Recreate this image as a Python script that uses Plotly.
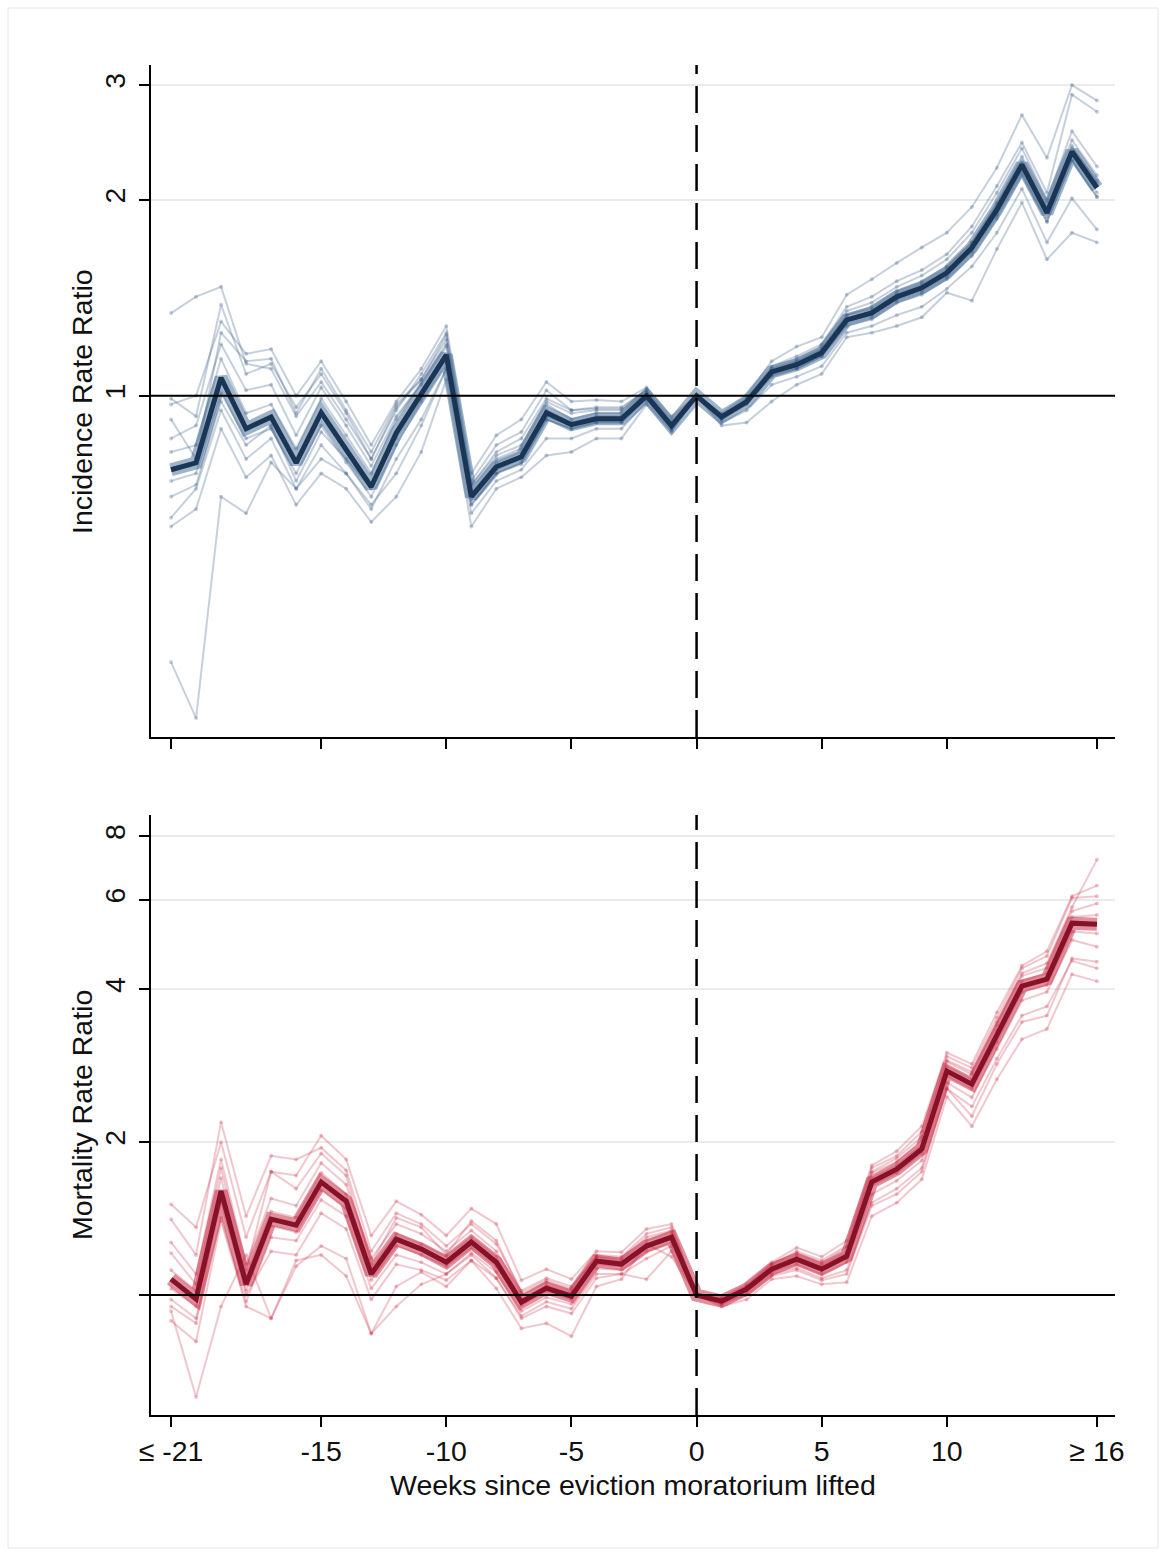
import plotly.graph_objects as go

# Event-time axis (weeks relative to the lifting of the eviction moratorium)
weeks = list(range(-21, 17))
week_ticks = [-21, -15, -10, -5, 0, 5, 10, 16]
week_labels = ["≤ -21", "-15", "-10", "-5", "0", "5", "10", "≥ 16"]

# ---- Incidence rate ratio: pooled estimate ----
irr_main = [0.770, 0.789, 1.066, 0.890, 0.928, 0.789, 0.942, 0.826, 0.725, 0.877,
            1.011, 1.156, 0.700, 0.778, 0.806, 0.942, 0.903, 0.922, 0.922, 1.000,
            0.899, 1.000, 0.928, 0.979, 1.088, 1.116, 1.164, 1.308, 1.341, 1.419,
            1.465, 1.545, 1.688, 1.931, 2.264, 1.910, 2.371, 2.087]

# ---- Incidence rate ratio: leave-one-out estimates ----
irr_a = [1.34, 1.42, 1.47, 1.12, 1.10, 0.93, 1.05, 0.92, 0.80, 0.95, 1.08, 1.25, 0.74,
         0.84, 0.88, 1.02, 0.95, 0.96, 0.96, 1.02, 0.91, 1.00, 0.92, 0.98, 1.09, 1.13,
         1.18, 1.33, 1.37, 1.45, 1.50, 1.58, 1.72, 1.97, 2.30, 1.95, 2.42, 2.12]
irr_b = [0.97, 1.00, 1.30, 1.16, 1.18, 1.00, 1.13, 0.98, 0.84, 0.98, 1.10, 1.28, 0.76,
         0.87, 0.92, 1.05, 0.98, 0.985, 0.98, 1.03, 0.93, 1.00, 0.94, 1.00, 1.13, 1.19,
         1.23, 1.43, 1.51, 1.60, 1.69, 1.78, 1.95, 2.24, 2.70, 2.32, 3.00, 2.84]
irr_c = [0.99, 0.93, 1.38, 1.08, 1.12, 0.96, 1.08, 0.94, 0.80, 0.96, 1.06, 1.24, 0.73,
         0.82, 0.86, 0.99, 0.95, 0.955, 0.955, 1.02, 0.92, 1.00, 0.935, 0.99, 1.11, 1.15,
         1.20, 1.37, 1.42, 1.50, 1.56, 1.65, 1.82, 2.10, 2.45, 2.05, 2.90, 2.73]
irr_d = [0.39, 0.32, 0.70, 0.66, 0.79, 0.72, 0.80, 0.76, 0.68, 0.76, 0.90, 1.10, 0.68,
         0.76, 0.79, 0.92, 0.89, 0.91, 0.91, 0.99, 0.89, 1.00, 0.92, 0.97, 1.07, 1.10,
         1.15, 1.28, 1.31, 1.39, 1.43, 1.51, 1.64, 1.87, 2.18, 1.85, 2.30, 2.02]
irr_e = [0.63, 0.67, 0.89, 0.75, 0.81, 0.68, 0.76, 0.72, 0.64, 0.70, 0.82, 1.06, 0.63,
         0.72, 0.75, 0.81, 0.82, 0.86, 0.86, 0.97, 0.88, 1.00, 0.90, 0.91, 0.98, 1.04,
         1.08, 1.23, 1.25, 1.28, 1.32, 1.44, 1.40, 1.68, 1.98, 1.62, 1.78, 1.72]
irr_f = [0.65, 0.72, 0.95, 0.80, 0.86, 0.72, 0.84, 0.76, 0.67, 0.80, 0.92, 1.10, 0.66,
         0.74, 0.77, 0.86, 0.86, 0.89, 0.89, 0.98, 0.885, 1.00, 0.91, 0.95, 1.04, 1.07,
         1.11, 1.25, 1.28, 1.33, 1.37, 1.46, 1.58, 1.78, 2.08, 1.72, 2.01, 1.80]
irr_g = [0.82, 0.84, 1.14, 0.94, 0.97, 0.83, 0.99, 0.87, 0.76, 0.92, 1.05, 1.20, 0.72,
         0.80, 0.83, 0.97, 0.92, 0.94, 0.94, 1.01, 0.905, 1.00, 0.93, 0.985, 1.10, 1.13,
         1.18, 1.33, 1.36, 1.44, 1.49, 1.57, 1.72, 1.98, 2.33, 1.98, 2.47, 2.18]
irr_h = [0.74, 0.76, 1.01, 0.86, 0.89, 0.76, 0.90, 0.79, 0.70, 0.84, 0.98, 1.12, 0.68,
         0.76, 0.785, 0.92, 0.89, 0.91, 0.91, 0.99, 0.895, 1.00, 0.925, 0.975, 1.075, 1.10,
         1.15, 1.29, 1.32, 1.40, 1.44, 1.52, 1.66, 1.89, 2.20, 1.85, 2.30, 2.02]
irr_i = [0.86, 0.90, 1.20, 1.02, 1.04, 0.87, 1.03, 0.90, 0.78, 0.93, 1.04, 1.19, 0.71,
         0.79, 0.82, 0.95, 0.91, 0.93, 0.93, 1.005, 0.90, 1.00, 0.93, 0.98, 1.09, 1.12,
         1.17, 1.31, 1.35, 1.43, 1.48, 1.56, 1.70, 1.95, 2.28, 1.93, 2.40, 2.14]
irr_j = [0.70, 0.73, 0.98, 0.84, 0.90, 0.74, 0.88, 0.80, 0.72, 0.86, 0.99, 1.14, 0.69,
         0.77, 0.80, 0.93, 0.90, 0.915, 0.915, 0.995, 0.897, 1.00, 0.927, 0.977, 1.08, 1.105,
         1.155, 1.30, 1.33, 1.41, 1.45, 1.53, 1.67, 1.90, 2.22, 1.88, 2.34, 2.05]
irr_k = [0.92, 0.80, 1.25, 1.13, 1.14, 0.94, 1.10, 0.95, 0.82, 0.97, 1.06, 1.22, 0.73,
         0.81, 0.84, 0.98, 0.94, 0.95, 0.95, 1.01, 0.91, 1.00, 0.93, 0.99, 1.10, 1.14,
         1.19, 1.35, 1.39, 1.47, 1.53, 1.62, 1.78, 2.05, 2.40, 2.00, 2.55, 2.25]

# ---- Mortality rate ratio: pooled estimate ----
mrr_main = [1.075, 0.982, 1.602, 1.051, 1.411, 1.373, 1.669, 1.531, 1.100, 1.289,
            1.232, 1.161, 1.272, 1.161, 0.969, 1.032, 0.995, 1.167, 1.151, 1.249,
            1.301, 1.000, 0.973, 1.028, 1.125, 1.177, 1.125, 1.193, 1.669, 1.770,
            1.939, 2.761, 2.602, 3.234, 4.058, 4.188, 5.398, 5.373]

# ---- Mortality rate ratio: leave-one-out estimates ----
mrr_p = [1.51, 1.36, 2.00, 1.30, 1.75, 1.72, 2.06, 1.85, 1.31, 1.53, 1.44, 1.31, 1.48,
         1.38, 1.07, 1.125, 1.075, 1.22, 1.215, 1.35, 1.38, 1.00, 0.99, 1.05, 1.16, 1.24,
         1.19, 1.28, 1.80, 1.92, 2.15, 3.00, 2.85, 3.60, 4.45, 4.75, 6.10, 6.40]
mrr_q = [1.41, 1.20, 2.19, 1.43, 1.88, 1.85, 1.95, 1.76, 1.22, 1.45, 1.38, 1.25, 1.38,
         1.26, 1.02, 1.08, 1.04, 1.19, 1.18, 1.30, 1.34, 1.00, 0.985, 1.04, 1.15, 1.21,
         1.16, 1.24, 1.75, 1.86, 2.05, 2.90, 2.75, 3.45, 4.30, 4.50, 5.80, 7.20]
mrr_r = [0.93, 0.63, 0.95, 1.20, 0.90, 1.14, 1.25, 1.18, 0.84, 1.04, 1.11, 1.04, 1.17,
         1.03, 0.86, 0.88, 0.83, 1.04, 1.075, 1.26, 1.19, 1.00, 0.95, 0.98, 1.075, 1.09,
         1.05, 1.06, 1.43, 1.52, 1.69, 2.46, 2.15, 2.66, 3.19, 3.34, 4.28, 4.15]
mrr_s = [0.89, 0.81, 1.40, 0.95, 0.90, 1.17, 1.20, 1.09, 0.84, 0.95, 1.05, 1.10, 1.20,
         1.08, 0.90, 0.95, 0.92, 1.08, 1.10, 1.075, 1.22, 1.00, 0.96, 1.00, 1.09, 1.12,
         1.07, 1.10, 1.50, 1.58, 1.75, 2.55, 2.25, 2.85, 3.45, 3.55, 4.60, 4.53]
mrr_t = [1.27, 1.10, 1.85, 1.15, 1.55, 1.50, 1.82, 1.65, 1.18, 1.38, 1.32, 1.22, 1.34,
         1.22, 1.00, 1.06, 1.02, 1.19, 1.17, 1.28, 1.33, 1.00, 0.98, 1.035, 1.14, 1.20,
         1.15, 1.22, 1.74, 1.83, 2.02, 2.88, 2.72, 3.40, 4.25, 4.40, 5.70, 5.90]
mrr_u = [0.98, 0.90, 1.42, 0.97, 1.30, 1.28, 1.54, 1.43, 1.03, 1.20, 1.16, 1.10, 1.21,
         1.11, 0.93, 0.99, 0.96, 1.13, 1.12, 1.22, 1.27, 1.00, 0.965, 1.02, 1.11, 1.15,
         1.10, 1.16, 1.58, 1.68, 1.84, 2.62, 2.45, 3.05, 3.80, 3.95, 5.00, 4.85]
mrr_v = [1.12, 1.02, 1.70, 1.09, 1.46, 1.42, 1.74, 1.58, 1.13, 1.32, 1.26, 1.19, 1.30,
         1.19, 0.98, 1.045, 1.01, 1.18, 1.16, 1.26, 1.31, 1.00, 0.975, 1.03, 1.13, 1.19,
         1.14, 1.21, 1.70, 1.80, 1.98, 2.82, 2.66, 3.32, 4.15, 4.30, 5.55, 5.60]
mrr_w = [1.03, 0.95, 1.52, 1.02, 1.37, 1.33, 1.61, 1.48, 1.07, 1.25, 1.20, 1.14, 1.24,
         1.14, 0.955, 1.02, 0.98, 1.15, 1.14, 1.24, 1.29, 1.00, 0.97, 1.025, 1.12, 1.165,
         1.115, 1.18, 1.64, 1.74, 1.90, 2.70, 2.55, 3.15, 3.95, 4.08, 5.20, 5.15]
mrr_x = [1.21, 1.05, 1.78, 1.12, 1.75, 1.62, 1.90, 1.72, 1.15, 1.42, 1.36, 1.20, 1.40,
         1.28, 1.01, 1.07, 1.03, 1.20, 1.19, 1.32, 1.36, 1.00, 0.98, 1.04, 1.15, 1.22,
         1.17, 1.25, 1.78, 1.88, 2.10, 2.95, 2.80, 3.52, 4.40, 4.65, 6.05, 6.10]
mrr_y = [0.95, 0.88, 1.60, 1.00, 1.22, 1.20, 1.45, 1.35, 0.98, 1.15, 1.12, 1.07, 1.17,
         1.08, 0.91, 0.97, 0.94, 1.10, 1.10, 1.18, 1.25, 1.00, 0.96, 1.01, 1.10, 1.13,
         1.08, 1.12, 1.52, 1.62, 1.78, 2.55, 2.35, 2.92, 3.55, 3.70, 4.55, 4.40]

irr_runs = [irr_a, irr_b, irr_c, irr_d, irr_e, irr_f, irr_g, irr_h, irr_i, irr_j, irr_k]
mrr_runs = [mrr_p, mrr_q, mrr_r, mrr_s, mrr_t, mrr_u, mrr_v, mrr_w, mrr_x, mrr_y]

BLUE_RUN = "rgba(50,85,128,0.28)"
BLUE_BAND = "rgba(45,88,135,0.45)"
BLUE_MAIN = "#1b3555"
RED_RUN = "rgba(200,38,66,0.26)"
RED_BAND = "rgba(195,32,58,0.50)"
RED_MAIN = "#86122a"
FONT = "Liberation Sans, Arial, Helvetica, sans-serif"
FS = 28.5

fig = go.Figure()


def add_panel(runs, main, run_color, band_color, main_color, xa, ya):
    for run in runs:
        fig.add_trace(go.Scatter(
            x=weeks, y=run, xaxis=xa, yaxis=ya, mode="lines+markers",
            line=dict(color=run_color, width=2),
            marker=dict(color=run_color, size=4),
            showlegend=False, hoverinfo="skip"))
    # soft halo of overlapping estimates around the pooled line
    fig.add_trace(go.Scatter(
        x=weeks, y=main, xaxis=xa, yaxis=ya, mode="lines",
        line=dict(color=band_color, width=13),
        showlegend=False, hoverinfo="skip"))
    fig.add_trace(go.Scatter(
        x=weeks, y=main, xaxis=xa, yaxis=ya, mode="lines",
        line=dict(color=main_color, width=5),
        showlegend=False))


add_panel(irr_runs, irr_main, BLUE_RUN, BLUE_BAND, BLUE_MAIN, "x", "y")
add_panel(mrr_runs, mrr_main, RED_RUN, RED_BAND, RED_MAIN, "x2", "y2")

x_common = dict(
    range=[-21.8, 16.72], showline=True, linecolor="black", linewidth=1.5,
    ticks="outside", ticklen=10, tickwidth=1.5, tickcolor="black",
    tickvals=week_ticks, showgrid=False, zeroline=False,
)
y_common = dict(
    type="log", showline=True, linecolor="black", linewidth=1.5,
    ticks="outside", ticklen=10, tickwidth=1.5, tickcolor="black",
    tickangle=-90, showgrid=True, gridcolor="#ebebeb", gridwidth=1.5,
    zeroline=False, tickfont=dict(size=FS, color="#111"), ticklabelstandoff=3,
)

fig.update_layout(
    width=1166, height=1556,
    margin=dict(l=151, r=51, t=65, b=141),
    paper_bgcolor="white", plot_bgcolor="white",
    font=dict(family=FONT, size=FS, color="#111"),
    xaxis=dict(domain=[0, 1], anchor="y", showticklabels=False, **x_common),
    xaxis2=dict(domain=[0, 1], anchor="y2", showticklabels=True,
                ticktext=week_labels, tickfont=dict(size=FS, color="#111"),
                **x_common),
    yaxis=dict(domain=[0.5022, 1.0], anchor="x", range=[-0.524, 0.508],
               tickvals=[1, 2, 3], ticktext=["1", "2", "3"], **y_common),
    yaxis2=dict(domain=[0.0, 0.4444], anchor="x2", range=[-0.236, 0.945],
                tickvals=[1, 2, 4, 6, 8], ticktext=["", "2", "4", "6", "8"],
                **y_common),
)

# Reference line at a ratio of 1 and dashed marker at week 0 in both panels
for xa, ya in (("x", "y"), ("x2", "y2")):
    fig.add_shape(type="line", xref=f"{xa} domain", yref=ya,
                  x0=0, x1=1, y0=1, y1=1,
                  line=dict(color="black", width=2), layer="above")
    fig.add_shape(type="line", xref=xa, yref=f"{ya} domain",
                  x0=0, x1=0, y0=0, y1=1,
                  line=dict(color="black", width=2.5, dash="27px,12px"),
                  layer="above")

# Axis titles
fig.add_annotation(text="Incidence Rate Ratio", xref="paper", yref="paper",
                   x=-0.0716, y=0.7511, textangle=-90, showarrow=False,
                   xanchor="center", yanchor="middle", font=dict(size=FS))
fig.add_annotation(text="Mortality Rate Ratio", xref="paper", yref="paper",
                   x=-0.0716, y=0.2222, textangle=-90, showarrow=False,
                   xanchor="center", yanchor="middle", font=dict(size=FS))
fig.add_annotation(text="Weeks since eviction moratorium lifted",
                   xref="paper", yref="paper", x=0.5, y=-0.0519,
                   showarrow=False, xanchor="center", yanchor="middle",
                   font=dict(size=FS))

# Light outer frame
fig.add_shape(type="rect", xref="paper", yref="paper",
              x0=-0.1483, x1=1.0446, y0=-0.0985, y1=1.0422,
              line=dict(color="#e6e6e6", width=1), layer="below")

fig.write_html("out.html")
